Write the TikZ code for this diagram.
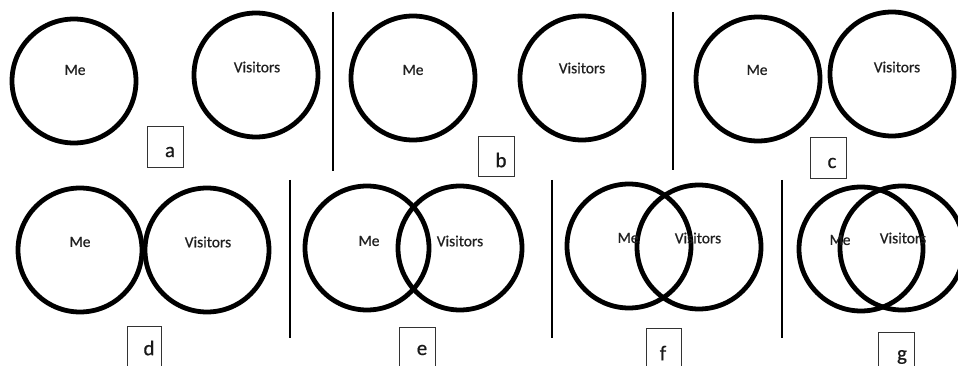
\documentclass[tikz,border=0pt]{standalone}
\usepackage{fontspec}
\setmainfont{Carlito}
\newfontfamily\lblfont{Carlito}[FakeBold=0.6]
\begin{document}
\begin{tikzpicture}[x=1pt,y=-1pt,
  venn/.style={circle,draw=black,line width=4.8pt,minimum size=124pt,inner sep=0pt},
  lbl/.style={inner sep=0pt,font=\lblfont\fontsize{15.5}{16}\selectfont,text=black!88},
  tagbox/.style={draw=black!80,line width=1pt,inner sep=0pt},
  tag/.style={inner sep=0pt,font=\lblfont\fontsize{21}{22}\selectfont,text=black!90},
  sep/.style={line width=2.8pt,draw=black}]
\useasboundingbox (0,0) rectangle (958,366);
\begin{scope}
\clip (0,0) rectangle (958,366);
% circles
\node[venn] (aM) at (74,81) {};
\node[venn] (aV) at (256,75) {};
\node[venn] (bM) at (413,78) {};
\node[venn] (bV) at (582,78) {};
\node[venn] (cM) at (758,79) {};
\node[venn] (cV) at (892,74) {};
\node[venn] (dM) at (80,250) {};
\node[venn] (dV) at (207,250) {};
\node[venn] (eM) at (367,248) {};
\node[venn] (eV) at (460,248) {};
\node[venn] (fM) at (629,246) {};
\node[venn] (fV) at (699,247) {};
\node[venn] (gM) at (861,249) {};
\node[venn] (gV) at (902,248) {};
% labels
\node[lbl] (aMt) at (75,70) {Me};
\node[lbl] (aVt) at (257,67) {Visitors};
\node[lbl] (bMt) at (413,70) {Me};
\node[lbl] (bVt) at (582,68) {Visitors};
\node[lbl] (cMt) at (757,70) {Me};
\node[lbl] (cVt) at (897,67) {Visitors};
\node[lbl] (dMt) at (80,242) {Me};
\node[lbl] (dVt) at (208,242) {Visitors};
\node[lbl] (eMt) at (369,241) {Me};
\node[lbl] (eVt) at (460,241) {Visitors};
\node[lbl] (fMt) at (628,238) {Me};
\node[lbl] (fVt) at (698,238) {Visitors};
\node[lbl] (gMt) at (840,240) {Me};
\node[lbl] (gVt) at (903,238) {Visitors};
% separators
\coordinate (s1a) at (333,12); \coordinate (s1b) at (333,171);
\coordinate (s2a) at (673,12); \coordinate (s2b) at (673,170);
\coordinate (s3a) at (290,180); \coordinate (s3b) at (290,338);
\coordinate (s4a) at (552,180); \coordinate (s4b) at (552,338);
\coordinate (s5a) at (782,180); \coordinate (s5b) at (782,338);
\draw[sep] (s1a) -- (s1b);
\draw[sep] (s2a) -- (s2b);
\draw[sep] (s3a) -- (s3b);
\draw[sep] (s4a) -- (s4b);
\draw[sep] (s5a) -- (s5b);
% tag boxes
\draw[tagbox] (147,127) rectangle (183,168);
\draw[tagbox] (478,137) rectangle (514,177);
\draw[tagbox] (810,138) rectangle (846,179);
\draw[tagbox] (127,326) rectangle (161,372);
\draw[tagbox] (399,327) rectangle (435,372);
\draw[tagbox] (646,328) rectangle (681,372);
\draw[tagbox] (878,332) rectangle (914,372);
\node[tag] (ta) at (170,152) {a};
\node[tag] (tb) at (501,160) {b};
\node[tag] (tc) at (832,163) {c};
\node[tag] (td) at (149,348) {d};
\node[tag] (te) at (422,350) {e};
\node[tag] (tf) at (663,353) {f};
\node[tag] (tg) at (902,357) {g};
\end{scope}
\end{tikzpicture}
\end{document}
